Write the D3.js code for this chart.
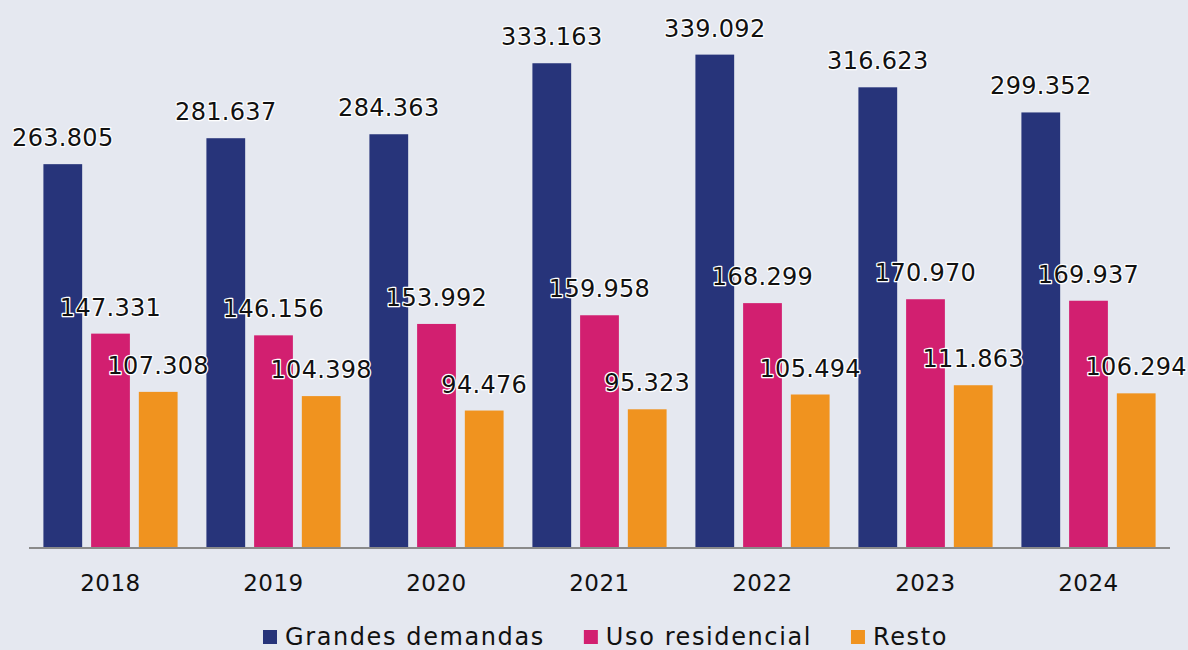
<!DOCTYPE html>
<html lang="es">
<head>
<meta charset="UTF-8">
<title>Demanda</title>
<script src="https://d3js.org/d3.v7.min.js"></script>
<style>
  html, body { margin: 0; padding: 0; background: #e5e8f0; }
  svg { display: block; }
  text { font-family: "DejaVu Sans", sans-serif; fill: #111; }
  .lbl { font-size: 24px; stroke: #fff; stroke-width: 2.5px; paint-order: stroke; stroke-linejoin: round; letter-spacing: 0.3px; }
  .tick { font-size: 23px; letter-spacing: 0.5px; }
  .leg { font-size: 24px; letter-spacing: 1.6px; }
</style>
</head>
<body>
<svg width="1188" height="650"></svg>
<script>
var years = ["2018", "2019", "2020", "2021", "2022", "2023", "2024"];
var seriesNames = ["Grandes demandas", "Uso residencial", "Resto"];
var grandes = [263.805, 281.637, 284.363, 333.163, 339.092, 316.623, 299.352];
var residencial = [147.331, 146.156, 153.992, 159.958, 168.299, 170.970, 169.937];
var resto = [107.308, 104.398, 94.476, 95.323, 105.494, 111.863, 106.294];
var colors = ["#27347a", "#d21f70", "#f0931f"];

var svg = d3.select("svg");
var base = 548;

var x0 = d3.scaleBand().domain(years).range([29, 1170]).padding(0);
var x1 = d3.scaleBand().domain(seriesNames).range([0, x0.bandwidth()])
    .paddingInner(0.1875).paddingOuter(0.302);
var y = d3.scaleLinear().domain([0, 350]).range([base, base - 350 * 1.455]);

// values are shown with a dot as thousands separator, e.g. 263.805
var f3 = function(v) { return v.toFixed(3); };

var allSeries = [grandes, residencial, resto];
var rows = [];
years.forEach(function(yr, i) {
  seriesNames.forEach(function(s, j) {
    rows.push({ year: yr, series: s, value: allSeries[j][i], c: colors[j] });
  });
});

svg.append("g").selectAll("rect")
  .data(rows)
  .enter().append("rect")
  .attr("x", function(d) { return x0(d.year) + x1(d.series); })
  .attr("y", function(d) { return y(d.value); })
  .attr("width", x1.bandwidth())
  .attr("height", function(d) { return base - y(d.value); })
  .attr("fill", function(d) { return d.c; });

// axis line
svg.append("line")
  .attr("x1", 29).attr("x2", 1170)
  .attr("y1", base).attr("y2", base)
  .attr("stroke", "#8a8a8a").attr("stroke-width", 2);

// year labels
svg.append("g").selectAll("text")
  .data(years)
  .enter().append("text")
  .attr("class", "tick")
  .attr("x", function(d) { return x0(d) + x0.bandwidth() / 2; })
  .attr("y", 591)
  .attr("text-anchor", "middle")
  .text(function(d) { return d; });

// value labels
svg.append("g").selectAll("text")
  .data(rows)
  .enter().append("text")
  .attr("class", "lbl")
  .attr("x", function(d) { return x0(d.year) + x1(d.series) + x1.bandwidth() / 2; })
  .attr("y", function(d) { return y(d.value) - 18; })
  .attr("text-anchor", "middle")
  .text(function(d) { return f3(d.value); });

// legend
var leg = svg.append("g");
var lx = 263;
seriesNames.forEach(function(s, j) {
  leg.append("rect").attr("x", lx).attr("y", 630).attr("width", 14).attr("height", 14).attr("fill", colors[j]);
  var t = leg.append("text").attr("class", "leg").attr("x", lx + 22).attr("y", 645).text(s);
  lx += 22 + t.node().getComputedTextLength() + 39;
});
</script>
</body>
</html>
